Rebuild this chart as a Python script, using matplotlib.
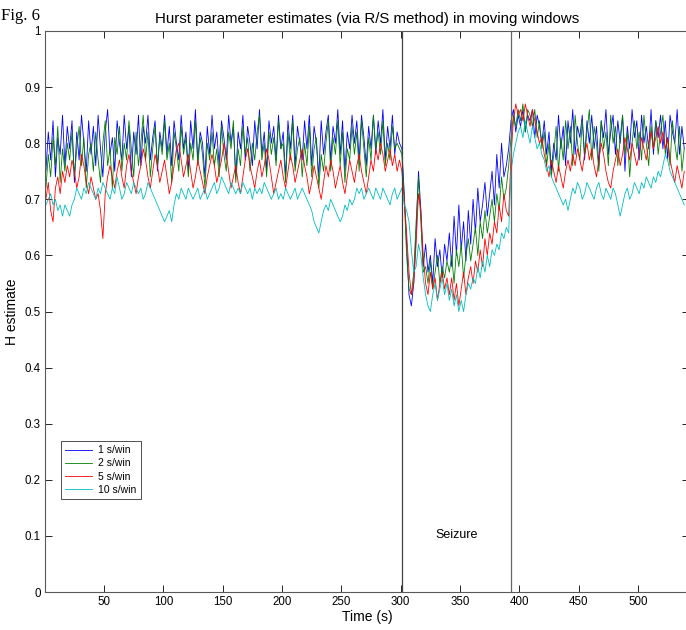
import numpy as np
import matplotlib
matplotlib.use("Agg")
import matplotlib.pyplot as plt

plt.rcParams['font.family'] = ['Liberation Sans', 'DejaVu Sans']

# time axis, one estimate every 2 s
t = np.arange(1, 541, 2)

# H estimates in hundredths, 10 values (20 s) per row
h_1s = [
    75, 82, 77, 84, 74, 81, 78, 85, 76, 83,
    79, 84, 73, 82, 77, 85, 80, 75, 84, 78,
    83, 76, 85, 79, 74, 82, 86, 78, 81, 75,
    84, 80, 77, 85, 79, 83, 74, 82, 78, 85,
    76, 83, 80, 85, 77, 81, 84, 75, 82, 79,
    85, 78, 83, 76, 84, 80, 77, 85, 79, 82,
    75, 84, 79, 86, 77, 82, 80, 74, 83, 78,
    85, 79, 82, 76, 84, 81, 77, 85, 80, 83,
    74, 82, 79, 85, 77, 83, 80, 76, 84, 79,
    86, 78, 82, 75, 84, 80, 83, 77, 85, 79,
    82, 74, 84, 79, 85, 76, 83, 80, 77, 84,
    79, 85, 76, 83, 80, 74, 84, 78, 82, 85,
    77, 83, 80, 86, 78, 84, 75, 82, 79, 85,
    80, 84, 77, 85, 81, 76, 83, 79, 85, 78,
    84, 80, 86, 77, 83, 79, 85, 78, 82, 80,
    79, 71, 62, 53, 51, 55, 64, 75, 68, 58,
    62, 57, 60, 55, 63, 58, 61, 56, 62, 59,
    64, 58, 67, 60, 69, 61, 66, 59, 68, 62,
    70, 64, 72, 66, 69, 73, 67, 71, 75, 69,
    78, 72, 80, 74, 76, 79, 84, 86, 82, 85,
    83, 86, 82, 85, 84, 86, 81, 85, 83, 80,
    84, 78, 82, 75, 80, 77, 85, 79, 83, 76,
    84, 80, 86, 78, 83, 81, 85, 77, 84, 80,
    85, 79, 83, 76, 84, 81, 86, 78, 82, 85,
    78, 84, 80, 85, 75, 83, 79, 86, 81, 84,
    77, 85, 80, 83, 79, 86, 78, 84, 81, 85,
    79, 84, 77, 85, 82, 80, 86, 78, 83, 79,
]

h_2s = [
    72, 78, 74, 81, 76, 83, 73, 79, 75, 80,
    77, 82, 74, 79, 83, 76, 81, 72, 78, 80,
    75, 82, 77, 73, 80, 84, 76, 79, 72, 81,
    78, 83, 75, 80, 77, 84, 79, 74, 82, 76,
    80, 85, 77, 82, 74, 79, 83, 76, 81, 78,
    84, 77, 80, 73, 82, 79, 75, 83, 78, 81,
    74, 80, 77, 84, 76, 81, 78, 72, 80, 77,
    82, 76, 79, 74, 83, 78, 75, 82, 79, 84,
    73, 79, 76, 83, 78, 81, 75, 80, 77, 82,
    85, 77, 80, 74, 82, 78, 81, 76, 84, 79,
    80, 73, 82, 77, 84, 75, 79, 81, 74, 80,
    76, 83, 74, 79, 81, 72, 78, 75, 80, 84,
    75, 81, 78, 84, 76, 82, 73, 79, 77, 83,
    78, 82, 75, 84, 79, 74, 81, 77, 85, 79,
    82, 78, 84, 76, 80, 77, 83, 79, 80, 79,
    78, 70, 60, 54, 53, 57, 66, 74, 66, 57,
    58, 55, 59, 54, 57, 60, 55, 58, 56, 59,
    57, 60, 55, 61, 58, 62, 56, 60, 63, 59,
    62, 65, 60, 66, 63, 68, 64, 67, 70, 66,
    71, 68, 74, 70, 72, 76, 81, 85, 83, 86,
    84, 87, 82, 86, 85, 83, 86, 81, 84, 79,
    82, 76, 80, 74, 78, 83, 75, 81, 77, 84,
    79, 83, 76, 85, 80, 77, 84, 78, 82, 86,
    77, 83, 80, 75, 84, 79, 82, 76, 85, 80,
    83, 76, 81, 85, 78, 82, 74, 80, 84, 79,
    82, 77, 85, 80, 76, 83, 79, 84, 78, 82,
    85, 78, 81, 76, 84, 80, 77, 83, 75, 79,
]

h_5s = [
    70, 73, 68, 66, 72, 74, 71, 75, 73, 76,
    74, 77, 75, 72, 74, 78, 76, 73, 71, 74,
    72, 70, 71, 68, 63, 71, 74, 76, 74, 72,
    75, 77, 74, 72, 76, 78, 75, 73, 71, 74,
    76, 79, 77, 74, 72, 75, 78, 76, 73, 75,
    77, 74, 71, 73, 76, 79, 80, 77, 74, 76,
    78, 75, 72, 74, 77, 75, 73, 71, 74, 76,
    78, 76, 73, 75, 77, 80, 78, 75, 72, 74,
    76, 73, 71, 74, 77, 79, 76, 74, 72, 75,
    77, 74, 76, 79, 77, 74, 71, 73, 75, 77,
    74, 72, 75, 78, 76, 73, 75, 77, 79, 76,
    74, 71, 73, 76, 74, 72, 70, 73, 76, 74,
    77, 75, 72, 74, 76, 73, 71, 74, 77, 75,
    73, 76, 78, 75, 73, 71, 74, 77, 75, 79,
    77, 80, 78, 75, 77, 79, 76, 78, 75, 77,
    75, 70, 64, 57, 53, 55, 62, 71, 68, 60,
    55, 53, 57, 54, 56, 52, 55, 57, 54, 56,
    53, 56, 52, 55, 51, 54, 57, 53, 56, 58,
    55, 59, 57, 61, 58, 63, 60, 64, 62, 66,
    64, 69, 66, 71, 68, 67, 78, 84, 87, 85,
    86, 84, 87, 85, 83, 86, 84, 82, 80, 81,
    78, 76, 74, 77, 75, 73, 76, 74, 72, 75,
    77, 75, 78, 76, 79, 77, 75, 78, 80, 77,
    79, 76, 74, 77, 80, 78, 75, 73, 72, 75,
    77, 79, 76, 78, 81, 79, 77, 80, 78, 76,
    78, 81, 79, 77, 80, 82, 79, 81, 83, 80,
    82, 79, 81, 77, 75, 73, 76, 74, 72, 75,
]

h_10s = [
    69, 70, 71, 69, 70, 68, 69, 67, 69, 68,
    67, 69, 70, 72, 71, 70, 72, 71, 73, 72,
    71, 70, 72, 71, 73, 72, 71, 70, 72, 71,
    74, 72, 70, 71, 73, 72, 71, 73, 72, 71,
    72, 70, 71, 73, 72, 71, 70, 69, 68, 67,
    66, 67, 68, 66, 69, 71, 70, 72, 71, 70,
    72, 71, 70, 71, 72, 70, 71, 72, 70, 71,
    72, 73, 71, 72, 74, 73, 72, 71, 73, 72,
    71, 72, 71, 73, 72, 71, 72, 70, 72, 71,
    72, 71, 73, 72, 71, 70, 71, 72, 70, 71,
    70, 72, 71, 70, 71, 72, 70, 71, 72, 71,
    70, 69, 68, 66, 65, 64, 66, 68, 69, 68,
    70, 69, 68, 67, 66, 67, 69, 68, 70, 69,
    70, 72, 71, 72, 70, 71, 72, 71, 70, 72,
    71, 70, 72, 71, 70, 69, 71, 72, 70, 71,
    72, 69, 68, 66, 61, 57, 58, 62, 60, 56,
    53, 51, 50, 53, 55, 52, 54, 56, 53, 55,
    52, 54, 51, 53, 50, 52, 50, 53, 55, 54,
    56, 55, 58, 56, 59, 57, 60, 58, 61, 60,
    62, 61, 64, 63, 65, 64, 75, 78, 80, 82,
    83, 81, 84, 82, 80, 83, 81, 79, 80, 78,
    77, 75, 76, 74, 73, 72, 71, 70, 69, 70,
    68, 70, 72, 71, 73, 72, 70, 71, 73, 72,
    71, 70, 72, 73, 71, 70, 72, 71, 70, 72,
    71, 69, 67, 69, 71, 72, 70, 71, 73, 72,
    71, 73, 72, 74, 73, 72, 74, 73, 75, 74,
    76, 78, 77, 75, 74, 73, 72, 71, 70, 69,
]

labels = ['1 s/win', '2 s/win', '5 s/win', '10 s/win']
colors = ['#0000ff', '#008000', '#ff0000', '#00bfbf']
seizure_start = 301
seizure_end = 393

fig = plt.figure(figsize=(6.86, 6.30), dpi=100)
ax = fig.add_axes([0.0652, 0.0603, 0.9392, 0.8905])

for h, lab, c in zip([h_1s, h_2s, h_5s, h_10s], labels, colors):
    ax.plot(t, np.array(h) / 100.0, color=c, lw=0.6, label=lab)

ax.axvline(seizure_start, color='0.25', lw=0.9)
ax.axvline(seizure_end, color='0.4', lw=0.9)
ax.text(347, 0.102, 'Seizure', ha='center', va='center', fontsize=9)

ax.set_xlim(0, 543)
ax.set_ylim(0, 1)
ax.set_xticks(np.arange(50, 501, 50))
ax.set_yticks(np.arange(0, 1.01, 0.1))
ax.set_yticklabels(['0', '0.1', '0.2', '0.3', '0.4', '0.5', '0.6', '0.7', '0.8', '0.9', '1'])
ax.tick_params(direction='in', length=5, width=0.6, top=True, right=True,
               labelsize=8.3, pad=3)
for s in ax.spines.values():
    s.set_linewidth(0.8)
    s.set_color('0.35')

ax.set_xlabel('Time (s)', fontsize=10, labelpad=1)
ax.set_ylabel('H estimate', fontsize=10, labelpad=4)
ax.set_title('Hurst parameter estimates (via R/S method) in moving windows',
             fontsize=10.8, pad=6)

leg = ax.legend(loc='lower left', bbox_to_anchor=(0.025, 0.166), borderaxespad=0,
                fontsize=7.5, handlelength=2.6, handletextpad=0.6,
                labelspacing=0.3, borderpad=0.4, fancybox=False, framealpha=1)
leg.get_frame().set_edgecolor('0.3')
leg.get_frame().set_linewidth(0.7)

fig.text(0.002, 0.975, 'Fig. 6', family='Liberation Serif', fontsize=12, va='center')

fig.savefig('out.png', dpi=100)
